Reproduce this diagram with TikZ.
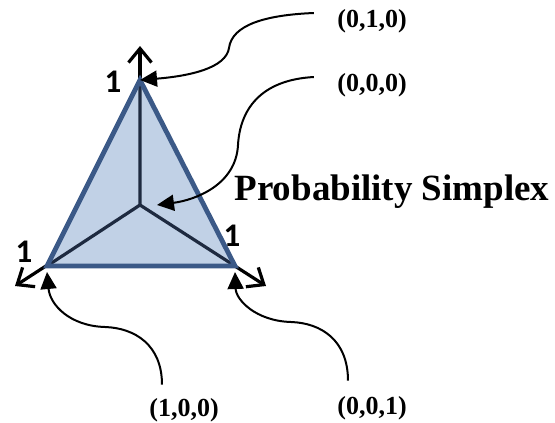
\documentclass[tikz,border=0pt]{standalone}
\usepackage{fontspec}
\setmainfont{Liberation Serif}
\newfontfamily\onefont{Carlito}
\usetikzlibrary{arrows.meta}

\begin{document}
\begin{tikzpicture}[
    x=1pt, y=-1pt,
    axis/.style={line width=3.2pt, -{Straight Barb[length=14pt,width=23pt,line width=3.2pt]}},
    pointer/.style={line width=2pt, -{Triangle[length=17pt,width=16pt]}},
    coordlabel/.style={font=\fontsize{26}{28}\selectfont\bfseries},
    onelabel/.style={font=\onefont\fontsize{33}{34}\selectfont\bfseries}
]

% Define colors
\definecolor{simplexfill}{RGB}{193,209,230}
\definecolor{simplexedge}{RGB}{59,89,135}
\definecolor{inneraxis}{RGB}{30,42,64}

\useasboundingbox (0,0) rectangle (555,423);

% Origin and vertices
\coordinate (O) at (140,205);
\coordinate (T) at (140,80);
\coordinate (L) at (47,266);
\coordinate (R) at (235,266);

% Axes
\draw[axis] (O) -- (140,46);
\draw[axis] (O) -- (15,286);
\draw[axis] (O) -- (266,286);

% Simplex
\fill[simplexfill] (T) -- (L) -- (R) -- cycle;
\draw[line width=3.2pt, inneraxis] (O) -- (T) (O) -- (L) (O) -- (R);
\draw[line width=4.8pt, simplexedge] (T) -- (L) -- (R) -- cycle;

% Unit labels
\node[onelabel] (oneT) at (113,82) {1};
\node[onelabel] (oneL) at (24,252) {1};
\node[onelabel] (oneR) at (232,236) {1};

% Point labels
\node[coordlabel] (p010) at (372,21) {(0,1,0)};
\node[coordlabel] (p000) at (372,85) {(0,0,0)};
\node[coordlabel] (p100) at (184,410) {(1,0,0)};
\node[coordlabel] (p001) at (372,408) {(0,0,1)};
\node[font=\fontsize{37}{40}\selectfont\bfseries] (title) at (392,192) {Probability Simplex};

% Pointers
\draw[pointer] ([xshift=-20pt,yshift=8pt]p010.west) .. controls (265,15) and (232,25) .. (229,48)
    .. controls (226,68) and (190,76) .. (T);
\draw[pointer] ([xshift=-20pt,yshift=8pt]p000.west) .. controls (260,80) and (240,110) .. (238,145)
    .. controls (236,185) and (195,200) .. ([xshift=17pt]O);
\draw[pointer] ([xshift=-22pt,yshift=10pt]p100.north) .. controls (162,345) and (135,328) .. (105,327)
    .. controls (70,326) and (50,305) .. ([yshift=-6pt]L);
\draw[pointer] ([xshift=-24pt,yshift=12pt]p001.north) .. controls (348,340) and (321,323) .. (291,322)
    .. controls (256,321) and (236,300) .. ([yshift=-6pt]R);

\end{tikzpicture}
\end{document}
